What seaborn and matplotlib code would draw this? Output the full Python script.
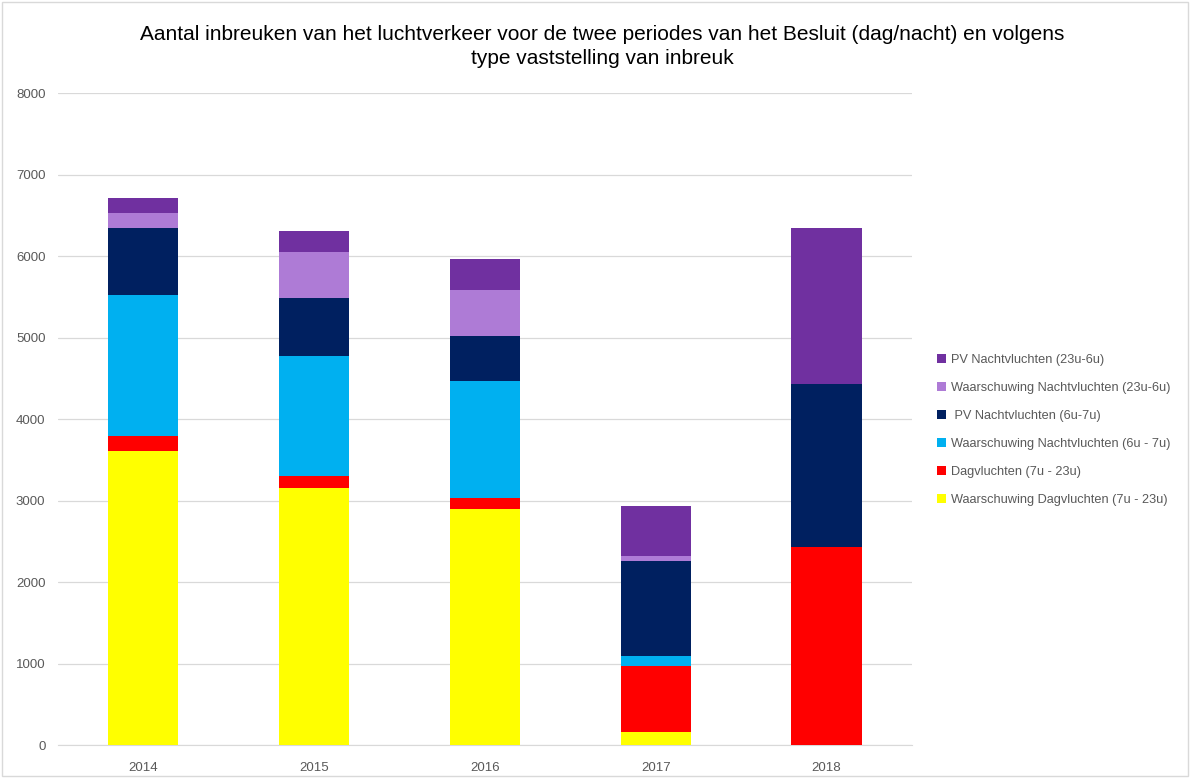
import numpy as np
import pandas as pd
import matplotlib
matplotlib.use("Agg")
import matplotlib.pyplot as plt
import seaborn as sns

# jaren en waarden per type inbreuk
jaren = ["2014", "2015", "2016", "2017", "2018"]
waarsch_dag = [3611, 3149, 2891, 160, 0]
dag = [184, 147, 143, 805, 2429]
waarsch_nacht_6_7 = [1726, 1477, 1436, 131, 0]
pv_nacht_6_7 = [826, 712, 552, 1157, 2000]
waarsch_nacht_23_6 = [181, 564, 556, 70, 0]
pv_nacht_23_6 = [184, 258, 385, 613, 1918]

reeksen = [
    ("Waarschuwing Dagvluchten (7u - 23u)", waarsch_dag, "#FFFF00"),
    ("Dagvluchten (7u - 23u)", dag, "#FF0000"),
    ("Waarschuwing Nachtvluchten (6u - 7u)", waarsch_nacht_6_7, "#00B0F0"),
    (" PV Nachtvluchten (6u-7u)", pv_nacht_6_7, "#002060"),
    ("Waarschuwing Nachtvluchten (23u-6u)", waarsch_nacht_23_6, "#AE7BD6"),
    ("PV Nachtvluchten (23u-6u)", pv_nacht_23_6, "#7030A0"),
]

df = pd.DataFrame({naam: waarden for naam, waarden, _ in reeksen}, index=jaren)
cum = df.cumsum(axis=1)

sns.set_style("white")
plt.rcParams["font.family"] = ["Liberation Sans", "DejaVu Sans"]

fig = plt.figure(figsize=(11.9, 7.78), dpi=100)
ax = fig.add_axes([0.0487, 0.0424, 0.7176, 0.838])

# bovenste reeks eerst tekenen, dan de lagere cumulatieven erover
for naam, _, kleur in reversed(reeksen):
    d = pd.DataFrame({"jaar": jaren, "waarde": cum[naam].values})
    sns.barplot(data=d, x="jaar", y="waarde", color=kleur, width=0.41,
                saturation=1, ax=ax, label=naam, zorder=3, linewidth=0,
                edgecolor="none")

ax.set_ylim(0, 8000)
ax.set_yticks(range(0, 8001, 1000))
ax.set_xlim(-0.5, 4.5)
ax.set_xlabel("")
ax.set_ylabel("")
ax.yaxis.grid(True, color="#D9D9D9", linewidth=0.9, zorder=0)
ax.set_axisbelow(True)
for s in ["top", "right", "left"]:
    ax.spines[s].set_visible(False)
ax.spines["bottom"].set_color("#D9D9D9")
ax.tick_params(axis="both", length=0, labelsize=9.5, colors="#595959")
ax.tick_params(axis="x", pad=12)
ax.tick_params(axis="y", pad=9)

if ax.legend_:
    ax.legend_.remove()
handles, labels = ax.get_legend_handles_labels()
fig.legend(handles, labels, loc="center left", bbox_to_anchor=(0.778, 0.447),
           frameon=False, fontsize=9.2, labelcolor="#595959",
           handlelength=0.7, handleheight=0.7, handletextpad=0.4,
           labelspacing=1.25)

fig.suptitle("Aantal inbreuken van het luchtverkeer voor de twee periodes van het Besluit (dag/nacht) en volgens\ntype vaststelling van inbreuk",
             x=0.506, y=0.968, fontsize=15, color="#000000", linespacing=1.35)

fig.patches.append(plt.Rectangle((0.002, 0.002), 0.996, 0.996, transform=fig.transFigure,
                                 fill=False, edgecolor="#D9D9D9", linewidth=1))

fig.savefig("out.png", dpi=100)
